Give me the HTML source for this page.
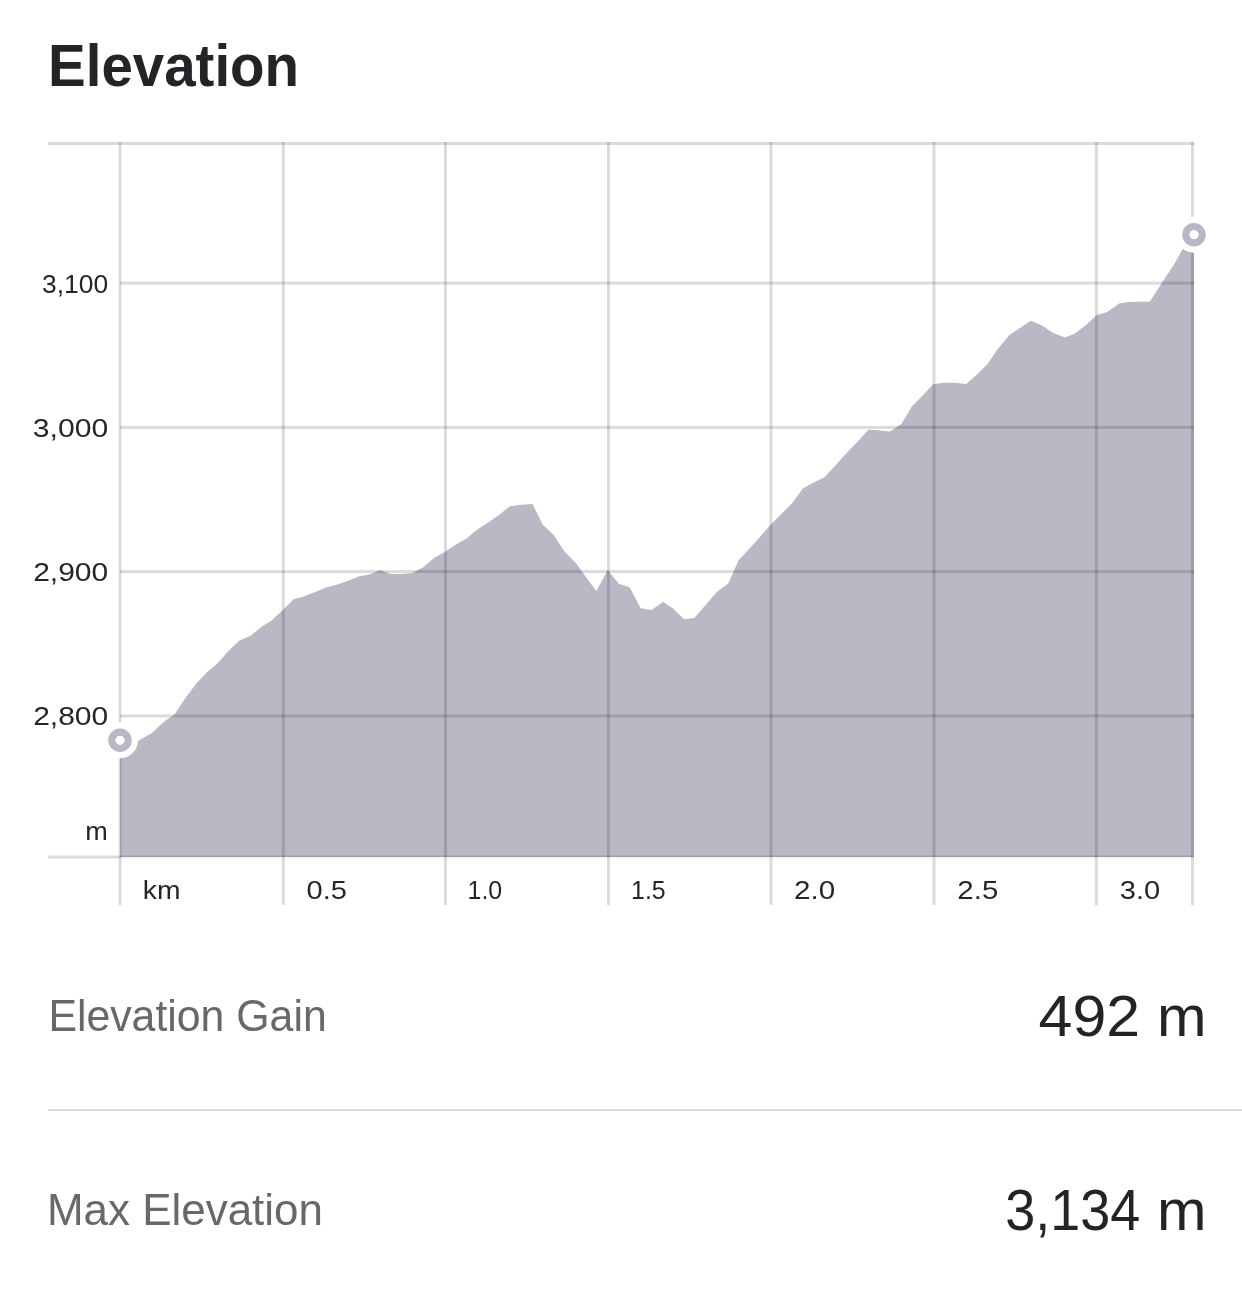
<!DOCTYPE html>
<html lang="en">
<head>
<meta charset="utf-8">
<title>Elevation</title>
<style>
  html, body { margin:0; padding:0; background:#ffffff; }
  body { width:1242px; height:1307px; position:relative; overflow:hidden;
         font-family:"Liberation Sans", sans-serif; color:#242428; }
  svg.page { position:absolute; left:0; top:0; width:1242px; height:1307px; display:block; will-change:transform; }
  svg text { font-family:"Liberation Sans", sans-serif; }
  svg .ttl { font-size:60px; font-weight:bold; fill:#242428; }
  svg .ax  { font-size:26px; fill:#26262a; }
  svg .lbl { font-size:44px; fill:#686869; }
  svg .val { font-size:57px; fill:#242428; }
</style>
</head>
<body>
<svg class="page" viewBox="0 0 1242 1307">
  <!-- title -->
  <g id="header">
    <text id="title" class="ttl" x="48.03" y="86.4" textLength="251.10" lengthAdjust="spacingAndGlyphs">Elevation</text>
  </g>
  <!-- elevation profile -->
  <g id="chart">
    <path id="profile" d="M120,857 L120,741 L130.8,742.5 L138.2,740.7 L151.9,733 L163.9,721.7 L174.4,714.5 L184.1,700 L195.3,684.7 L206.6,672.6 L217.9,662.9 L228.4,650.9 L238.8,640.9 L250.9,635.6 L260.6,627.5 L271.8,620.3 L283.1,609.8 L293.6,599.3 L304.3,596.3 L315.1,591.9 L325.9,587.6 L336.8,584.7 L347.6,581 L358.5,576.6 L369.3,574.5 L380.1,570.2 L391,573.9 L401.8,574 L412.6,573.1 L423.5,567 L434.3,557.8 L445.2,551.7 L456,544.4 L466.8,538.3 L477.7,529.2 L488.5,522.3 L499.3,514.8 L509.9,506.2 L521,504.8 L532.5,504.1 L542.8,524.8 L553.7,534.9 L564.5,551.6 L576.3,563.4 L585.9,577.1 L596.4,591.1 L607.7,570.2 L619,583.8 L629.7,587.2 L640.7,608.2 L651.5,610.1 L663.2,602 L672.5,608.1 L683.8,619.1 L694.3,618.1 L705.6,604.9 L716.8,592 L728.1,583.7 L738.6,560.2 L749.8,548.2 L760.3,536.5 L770.8,524.4 L781.2,513.9 L792.5,502.7 L803,488.2 L814.3,482.2 L824.7,476.9 L835.3,465.4 L846.6,452.9 L857.8,441.6 L868.3,429.8 L878.8,430.3 L890,431.6 L901.3,423.9 L911.8,406.6 L923.1,394.9 L933.5,384.1 L944,382.8 L955.3,382.8 L966.2,383.9 L977,374.4 L987.8,363.8 L997.9,348.7 L1009.3,335.1 L1020.2,327.7 L1030.8,320.8 L1042,325.6 L1052.5,332.4 L1064.9,337.4 L1074.6,333.7 L1086.3,324.8 L1096.8,315.1 L1106.8,312.2 L1119.3,303.4 L1128.2,301.9 L1139,301.8 L1149.9,301.8 L1161.7,283 L1173.3,265.7 L1184.1,246.6 L1194,234.7 L1194,857 Z" fill="#b9b9c6"/>
    <g id="grid"><rect x="118.5" y="142" width="3" height="763" fill="rgba(0,0,0,0.14)"/><rect x="281.8" y="142" width="3" height="763" fill="rgba(0,0,0,0.14)"/><rect x="444.0" y="142" width="3" height="763" fill="rgba(0,0,0,0.14)"/><rect x="607.0" y="142" width="3" height="763" fill="rgba(0,0,0,0.14)"/><rect x="769.5" y="142" width="3" height="763" fill="rgba(0,0,0,0.14)"/><rect x="932.5" y="142" width="3" height="763" fill="rgba(0,0,0,0.14)"/><rect x="1094.9" y="142" width="3" height="763" fill="rgba(0,0,0,0.14)"/><rect x="1191.0" y="142" width="3" height="763" fill="rgba(0,0,0,0.14)"/><rect x="48" y="142" width="1146" height="3" fill="rgba(0,0,0,0.14)"/><rect x="48" y="855.5" width="73.5" height="3" fill="rgba(0,0,0,0.14)"/><rect x="121.5" y="855.5" width="1072.5" height="1.5" fill="rgba(0,0,0,0.14)"/><rect x="121.5" y="857" width="1072.5" height="1.8" fill="rgba(60,60,110,0.06)"/><rect x="120" y="281.65" width="1074" height="3" fill="rgba(0,0,0,0.14)"/><rect x="120" y="425.9" width="1074" height="3" fill="rgba(0,0,0,0.14)"/><rect x="120" y="570.1" width="1074" height="3" fill="rgba(0,0,0,0.14)"/><rect x="120" y="714.4" width="1074" height="3" fill="rgba(0,0,0,0.14)"/></g>
    <g id="markers"><circle cx="120" cy="740.3" r="18" fill="#fff"/><circle cx="120" cy="740.3" r="8.2" fill="#fff" stroke="#b7b7c5" stroke-width="7.1"/><circle cx="1194" cy="234.7" r="18" fill="#fff"/><circle cx="1194" cy="234.7" r="8.2" fill="#fff" stroke="#b7b7c5" stroke-width="7.1"/></g>
    <g id="y-axis">
    <text id="y3100" class="ax" x="42.07" y="293.2" textLength="66.04" lengthAdjust="spacingAndGlyphs">3,100</text>
    <text id="y3000" class="ax" x="32.78" y="437.2" textLength="75.43" lengthAdjust="spacingAndGlyphs">3,000</text>
    <text id="y2900" class="ax" x="33.18" y="581.2" textLength="75.09" lengthAdjust="spacingAndGlyphs">2,900</text>
    <text id="y2800" class="ax" x="33.18" y="725.2" textLength="75.09" lengthAdjust="spacingAndGlyphs">2,800</text>
    <text id="ym" class="ax" x="85.30" y="839.9" textLength="22.53" lengthAdjust="spacingAndGlyphs">m</text>
    </g>
    <g id="x-axis">
    <text id="xkm" class="ax" x="142.86" y="899" textLength="37.67" lengthAdjust="spacingAndGlyphs">km</text>
    <text id="x05" class="ax" x="306.51" y="899" textLength="40.40" lengthAdjust="spacingAndGlyphs">0.5</text>
    <text id="x10" class="ax" x="467.53" y="899" textLength="34.70" lengthAdjust="spacingAndGlyphs">1.0</text>
    <text id="x15" class="ax" x="631.05" y="899" textLength="34.60" lengthAdjust="spacingAndGlyphs">1.5</text>
    <text id="x20" class="ax" x="794.09" y="899" textLength="41.10" lengthAdjust="spacingAndGlyphs">2.0</text>
    <text id="x25" class="ax" x="957.37" y="899" textLength="40.91" lengthAdjust="spacingAndGlyphs">2.5</text>
    <text id="x30" class="ax" x="1119.73" y="899" textLength="40.47" lengthAdjust="spacingAndGlyphs">3.0</text>
    </g>
  </g>
  <!-- stats -->
  <g id="stats">
    <text id="lgain" class="lbl" x="48.38" y="1030.6" textLength="278.32" lengthAdjust="spacingAndGlyphs">Elevation Gain</text>
    <text id="vgain" class="val" x="1038.64" y="1035.8" textLength="101.61" lengthAdjust="spacingAndGlyphs">492</text>
    <text id="vgainm" class="val" x="1157.01" y="1035.8" textLength="49.54" lengthAdjust="spacingAndGlyphs">m</text>
    <rect id="divider" x="48" y="1109.3" width="1194" height="1.6" fill="#cfcfd8"/>
    <text id="lmax" class="lbl" x="46.94" y="1224.5" textLength="276.03" lengthAdjust="spacingAndGlyphs">Max Elevation</text>
    <text id="vmax" class="val" x="1005.19" y="1229.8" textLength="134.98" lengthAdjust="spacingAndGlyphs">3,134</text>
    <text id="vmaxm" class="val" x="1157.01" y="1229.8" textLength="49.54" lengthAdjust="spacingAndGlyphs">m</text>
  </g>
</svg>
</body>
</html>
